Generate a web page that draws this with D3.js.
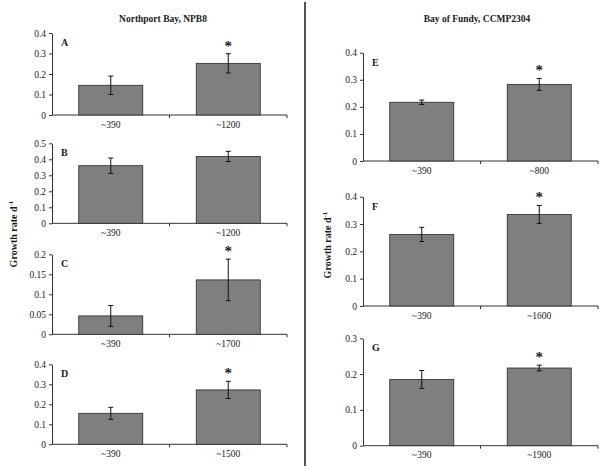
<!DOCTYPE html>
<html>
<head>
<meta charset="utf-8">
<script src="https://cdn.jsdelivr.net/npm/d3@7"></script>
<style>
  html, body { margin: 0; padding: 0; background: #fff; }
  svg { display: block; }
  text { font-family: "Liberation Serif", "Times New Roman", serif; fill: #1a1a1a; }
</style>
</head>
<body>
<svg id="chart" width="600" height="469"></svg>
<script>
// ---- Data ----
const titles = ["Northport Bay, NPB8", "Bay of Fundy, CCMP2304"];
const panelLabels = ["A", "B", "C", "D", "E", "F", "G"];
const categories = [
  ["~390", "~1200"], ["~390", "~1200"], ["~390", "~1700"], ["~390", "~1500"],
  ["~390", "~800"], ["~390", "~1600"], ["~390", "~1900"]
];
const growthRate = [
  [0.145, 0.252], [0.360, 0.418], [0.046, 0.136], [0.155, 0.272],
  [0.217, 0.283], [0.262, 0.335], [0.185, 0.217]
];
const errorSize = [
  [0.045, 0.047], [0.048, 0.032], [0.026, 0.052], [0.030, 0.043],
  [0.008, 0.022], [0.026, 0.033], [0.025, 0.008]
];
const significant = [
  [false, true], [false, false], [false, true], [false, true],
  [false, true], [false, true], [false, true]
];
const yMax = [0.4, 0.5, 0.2, 0.4, 0.4, 0.4, 0.3];
const yTicks = [
  [0, 0.1, 0.2, 0.3, 0.4],
  [0, 0.1, 0.2, 0.3, 0.4, 0.5],
  [0, 0.05, 0.1, 0.15, 0.2],
  [0, 0.1, 0.2, 0.3, 0.4],
  [0, 0.1, 0.2, 0.3, 0.4],
  [0, 0.1, 0.2, 0.3, 0.4],
  [0, 0.1, 0.2, 0.3]
];
const yAxisTitle = "Growth rate d";
const yAxisTitleSup = "-1";

// ---- Layout (pixels) ----
const leftX = [52, 287], rightX = [363, 598];
const panelBoxes = [
  { x: leftX, y: [33, 115] },
  { x: leftX, y: [143.3, 223.3] },
  { x: leftX, y: [254.3, 334.3] },
  { x: leftX, y: [364.3, 444.3] },
  { x: rightX, y: [52.7, 161] },
  { x: rightX, y: [196.7, 306] },
  { x: rightX, y: [338.3, 445.7] }
];
const barFrac = 0.545;

const svg = d3.select("#chart");
svg.append("rect").attr("width", 600).attr("height", 469).attr("fill", "#fff");

panelBoxes.forEach((box, i) => {
  const g = svg.append("g");
  const x = d3.scaleBand().domain(categories[i]).range(box.x).padding(0);
  const y = d3.scaleLinear().domain([0, yMax[i]]).range([box.y[1], box.y[0]]);
  const bw = x.bandwidth() * barFrac;
  const off = (x.bandwidth() - bw) / 2;

  // y axis
  const yAxis = d3.axisLeft(y).tickValues(yTicks[i]).tickSize(3).tickSizeOuter(0)
    .tickFormat(d => d === 0 ? "0" : String(+d.toFixed(2)));
  const ya = g.append("g").attr("transform", `translate(${box.x[0]},0)`).call(yAxis);
  ya.select(".domain").attr("stroke", "#333").attr("stroke-width", 1);
  ya.selectAll(".tick line").attr("stroke", "#333");
  ya.selectAll(".tick text").attr("font-size", 9.5).attr("x", -6)
    .attr("font-family", "Liberation Serif, Times New Roman, serif").attr("fill", "#1a1a1a");

  // x axis: line with ticks at category boundaries
  const xa = g.append("g").attr("transform", `translate(0,${box.y[1]})`);
  xa.append("line").attr("x1", box.x[0]).attr("x2", box.x[1])
    .attr("stroke", "#333").attr("stroke-width", 1);
  const bounds = [x(categories[i][1]), box.x[1]];
  xa.selectAll("line.tk").data(bounds).join("line").attr("class", "tk")
    .attr("x1", d => d).attr("x2", d => d).attr("y1", 0).attr("y2", 3)
    .attr("stroke", "#333");
  xa.selectAll("text").data(categories[i]).join("text")
    .attr("x", d => x(d) + x.bandwidth() / 2).attr("y", 12.5)
    .attr("text-anchor", "middle").attr("font-size", 9.5).text(d => d);

  // bars
  g.selectAll("rect.bar").data(growthRate[i]).join("rect").attr("class", "bar")
    .attr("x", (d, j) => x(categories[i][j]) + off)
    .attr("width", bw)
    .attr("y", d => y(d))
    .attr("height", d => y(0) - y(d))
    .attr("fill", "#7f7f7f").attr("stroke", "#2a2a2a").attr("stroke-width", 0.8);

  // error bars
  growthRate[i].forEach((v, j) => {
    const cx = x(categories[i][j]) + x.bandwidth() / 2;
    const e = errorSize[i][j];
    const top = y(v + e), bot = y(v - e);
    g.append("line").attr("x1", cx).attr("x2", cx).attr("y1", top).attr("y2", bot)
      .attr("stroke", "#111").attr("stroke-width", 1);
    [top, bot].forEach(yy => g.append("line").attr("x1", cx - 2.5).attr("x2", cx + 2.5)
      .attr("y1", yy).attr("y2", yy).attr("stroke", "#111").attr("stroke-width", 1));
    if (significant[i][j]) {
      g.append("text").attr("x", cx).attr("y", top - 10 + 7)
        .attr("text-anchor", "middle").attr("font-size", 15).attr("font-weight", "bold")
        .text("*");
    }
  });

  // panel label
  g.append("text").attr("x", box.x[0] + 9).attr("y", box.y[0] + 13)
    .attr("font-size", 10).attr("font-weight", "bold").text(panelLabels[i]);
});

// titles
svg.append("text").attr("x", 163).attr("y", 22).attr("text-anchor", "middle")
  .attr("font-size", 9.5).attr("font-weight", "bold").text(titles[0]);
svg.append("text").attr("x", 477).attr("y", 22).attr("text-anchor", "middle")
  .attr("font-size", 9.5).attr("font-weight", "bold").text(titles[1]);

// y axis titles
function yTitle(cx, cy) {
  const t = svg.append("text").attr("transform", `translate(${cx},${cy}) rotate(-90)`)
    .attr("text-anchor", "middle").attr("font-size", 10).attr("font-weight", "bold");
  t.append("tspan").text(yAxisTitle);
  t.append("tspan").attr("dy", -4).attr("font-size", 7).text(yAxisTitleSup);
}
yTitle(17, 234);
yTitle(331, 245);

// separator
svg.append("line").attr("x1", 305).attr("x2", 305).attr("y1", 2).attr("y2", 466)
  .attr("stroke", "#555").attr("stroke-width", 2);
</script>
</body>
</html>
